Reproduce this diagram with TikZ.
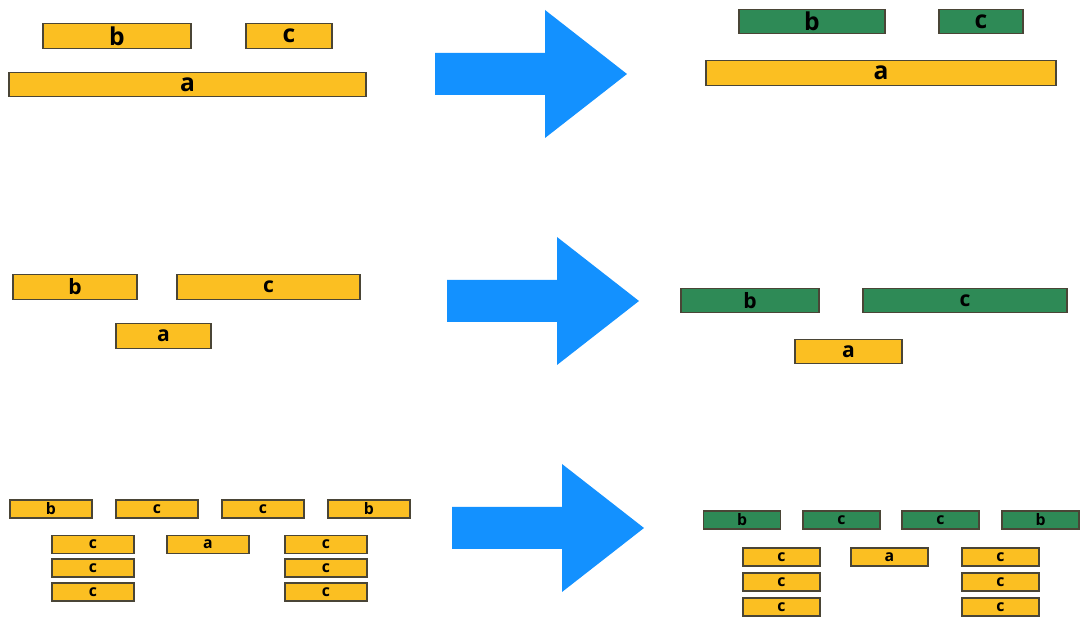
\documentclass[tikz,border=0pt]{standalone}
\usepackage{fontspec}
\setsansfont{Open Sans}
\definecolor{boxyellow}{HTML}{FBBF22}
\definecolor{boxgreen}{HTML}{2E8A56}
\definecolor{boxline}{HTML}{4A4536}
\definecolor{arrowblue}{HTML}{1391FF}

\begin{document}
\begin{tikzpicture}[x=0.02cm,y=-0.02cm,line width=0.6pt,
    ybox/.style={rectangle,draw=boxline,fill=boxyellow,inner sep=0pt,
                 minimum width=#1*0.02cm},
    gbox/.style={ybox=#1,fill=boxgreen},
    rowone/.style={minimum height=0.49cm,font=\sffamily\bfseries\fontsize{14}{14}\selectfont},
    rowtwo/.style={minimum height=0.49cm,font=\sffamily\bfseries\fontsize{12}{12}\selectfont},
    rowthree/.style={minimum height=0.36cm,font=\sffamily\bfseries\fontsize{9}{9}\selectfont}]
  \useasboundingbox (0,0) rectangle (1083,624);

  % first case
  \node[ybox=148,rowone] (b1) at (117,36) {b};
  \node[ybox=86,rowone]  (c1) at (289,36) {c};
  \node[ybox=357,rowone] (a1) at (187.5,84.5) {a};
  \node[gbox=146,rowone] (b1r) at (812,21.5) {b};
  \node[gbox=84,rowone]  (c1r) at (981,21.5) {c};
  \node[ybox=350,rowone] (a1r) at (881,73) {a};

  % second case
  \node[ybox=124,rowtwo] (b2) at (75,287) {b};
  \node[ybox=183,rowtwo] (c2) at (268.5,287) {c};
  \node[ybox=95,rowtwo]  (a2) at (163.5,336) {a};
  \node[gbox=138,rowtwo] (b2r) at (750,300.5) {b};
  \node[gbox=204,rowtwo] (c2r) at (965,300.5) {c};
  \node[ybox=107,rowtwo] (a2r) at (848.5,351.5) {a};

  % third case
  \foreach \x/\t [count=\i] in {51/b,157/c,263/c,369/b}
    \node[ybox=82,rowthree] (t3\i) at (\x,509) {\t};
  \foreach \y [count=\i] in {544.5,568,592} {
    \node[ybox=82,rowthree] (l3\i) at (93,\y) {c};
    \node[ybox=82,rowthree] (r3\i) at (326,\y) {c};
  }
  \node[ybox=82,rowthree] (a3) at (208,544.5) {a};
  \foreach \x/\t [count=\i] in {742/b,841.5/c,940.5/c,1040.5/b}
    \node[gbox=77,rowthree] (t3\i r) at (\x,520) {\t};
  \foreach \y [count=\i] in {557,582,607} {
    \node[ybox=77,rowthree] (l3\i r) at (781.5,\y) {c};
    \node[ybox=77,rowthree] (r3\i r) at (1000.5,\y) {c};
  }
  \node[ybox=77,rowthree] (a3r) at (889.5,557) {a};

  % big arrows
  \foreach \x/\y in {435/74,447/301,452/528}
    \fill[arrowblue] (\x,\y) ++(0,-21) -- ++(110,0) -- ++(0,-43) -- ++(82,64)
      -- ++(-82,64) -- ++(0,-43) -- ++(-110,0) -- cycle;
\end{tikzpicture}
\end{document}
